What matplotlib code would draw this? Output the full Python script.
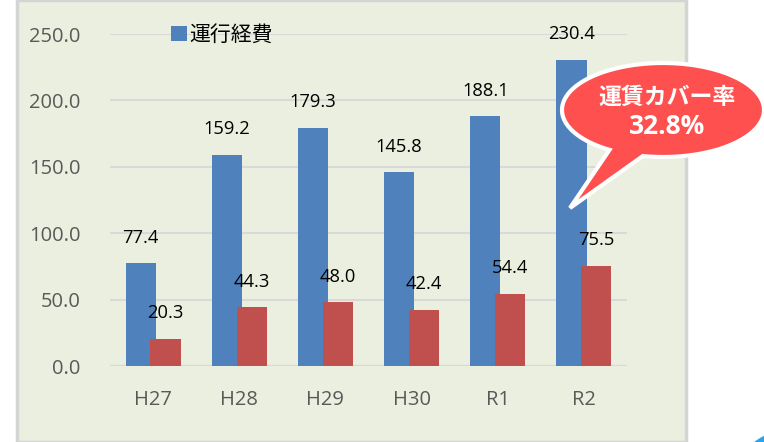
import matplotlib
matplotlib.use("Agg")
import matplotlib.pyplot as plt
import numpy as np
from matplotlib.patches import Rectangle, Polygon, Ellipse, Patch

plt.rcParams['font.family'] = ['Open Sans', 'Noto Sans CJK JP', 'DejaVu Sans']

categories = ["H27", "H28", "H29", "H30", "R1", "R2"]
operating_cost = [77.4, 159.2, 179.3, 145.8, 188.1, 230.4]
fare_revenue = [20.3, 44.3, 48.0, 42.4, 54.4, 75.5]
yticks = [0, 50, 100, 150, 200, 250]
legend_label = "運行経費"
callout_title = "運賃カバー率"
callout_value = "32.8%"

W, H = 764, 442
fig = plt.figure(figsize=(W / 100, H / 100), dpi=100)
fig.patch.set_facecolor("white")

def fx(px):
    return px / W

def fy(py):
    return 1 - py / H

# panel background
fig.patches.append(Rectangle((fx(17), 0), fx(686) - fx(17), 1, transform=fig.transFigure,
                             facecolor="#EBEFDF", edgecolor="#D4D4D4", linewidth=2.5, zorder=0))

ax = fig.add_axes([fx(110), fy(366), fx(627) - fx(110), fy(34) - fy(366)])
ax.set_zorder(2)
ax.set_facecolor("none")
x = np.arange(len(categories))
bw = 0.35
off = 0.145
b1 = ax.bar(x - off, operating_cost, bw, color="#4F81BD", zorder=3)
b2 = ax.bar(x + off, fare_revenue, bw, color="#C0504D", zorder=4)

for xi, v in zip(x - off, operating_cost):
    ax.annotate(f"{v:.1f}", (xi, v), xytext=(0, 12), textcoords="offset points",
                ha="center", va="bottom", fontsize=13.2, color="#000000", zorder=6)
for xi, v in zip(x + off, fare_revenue):
    ax.annotate(f"{v:.1f}", (xi, v), xytext=(0, 12), textcoords="offset points",
                ha="center", va="bottom", fontsize=13.2, color="#000000", zorder=6)

ax.set_xlim(-0.5, len(categories) - 0.5)
ax.set_ylim(0, 250)
ax.set_yticks(yticks)
ax.set_yticklabels([f"{t:.1f}" for t in yticks])
ax.set_xticks(x)
ax.set_xticklabels(categories)
ax.tick_params(axis="y", length=0, pad=21, labelsize=14.5, labelcolor="#595959")
ax.tick_params(axis="x", length=0, pad=17, labelsize=14.5, labelcolor="#595959")
for s in ax.spines.values():
    s.set_visible(False)
ax.yaxis.grid(True, color="#D9D9D9", linewidth=1.5, zorder=0)
ax.set_axisbelow(True)
ax.axhline(0, color="#D9D9D9", linewidth=2.5, zorder=2)

leg = ax.legend(handles=[Patch(facecolor="#4F81BD", label=legend_label)],
                loc="center left", bbox_to_anchor=(fx(171), fy(35)),
                bbox_transform=fig.transFigure, frameon=False,
                fontsize=15, handlelength=0.75, handleheight=0.75, handletextpad=0.15,
                borderaxespad=0, borderpad=0)

# callout bubble
cx, cy, rx, ry = 663, 110, 101, 47
t = np.deg2rad(np.linspace(101.5, 122 - 360, 300))
pts = [(cx + rx * np.cos(a), cy + ry * np.sin(a)) for a in t]
pts.append((570, 208))
poly = [(fx(px), fy(py)) for px, py in pts]
fig.patches.append(Polygon(poly, closed=True, transform=fig.transFigure,
                           facecolor="#FF5050", edgecolor="white", linewidth=3, zorder=10))
fig.text(fx(667), fy(97), callout_title, ha="center", va="center", fontsize=16.5,
         fontweight="bold", color="white", family=['Noto Sans CJK JP', 'DejaVu Sans'], zorder=11)
fig.text(fx(667), fy(127), callout_value, ha="center", va="center", fontsize=19,
         fontweight="bold", color="white", family=['Open Sans', 'DejaVu Sans'], zorder=11)

# small decorative shape at the corner
fig.patches.append(Ellipse((fx(790), fy(470)), fx(100), 80 / H, transform=fig.transFigure,
                           facecolor="#29A3EF", edgecolor="none", zorder=1))

fig.savefig("out.png", dpi=100)
